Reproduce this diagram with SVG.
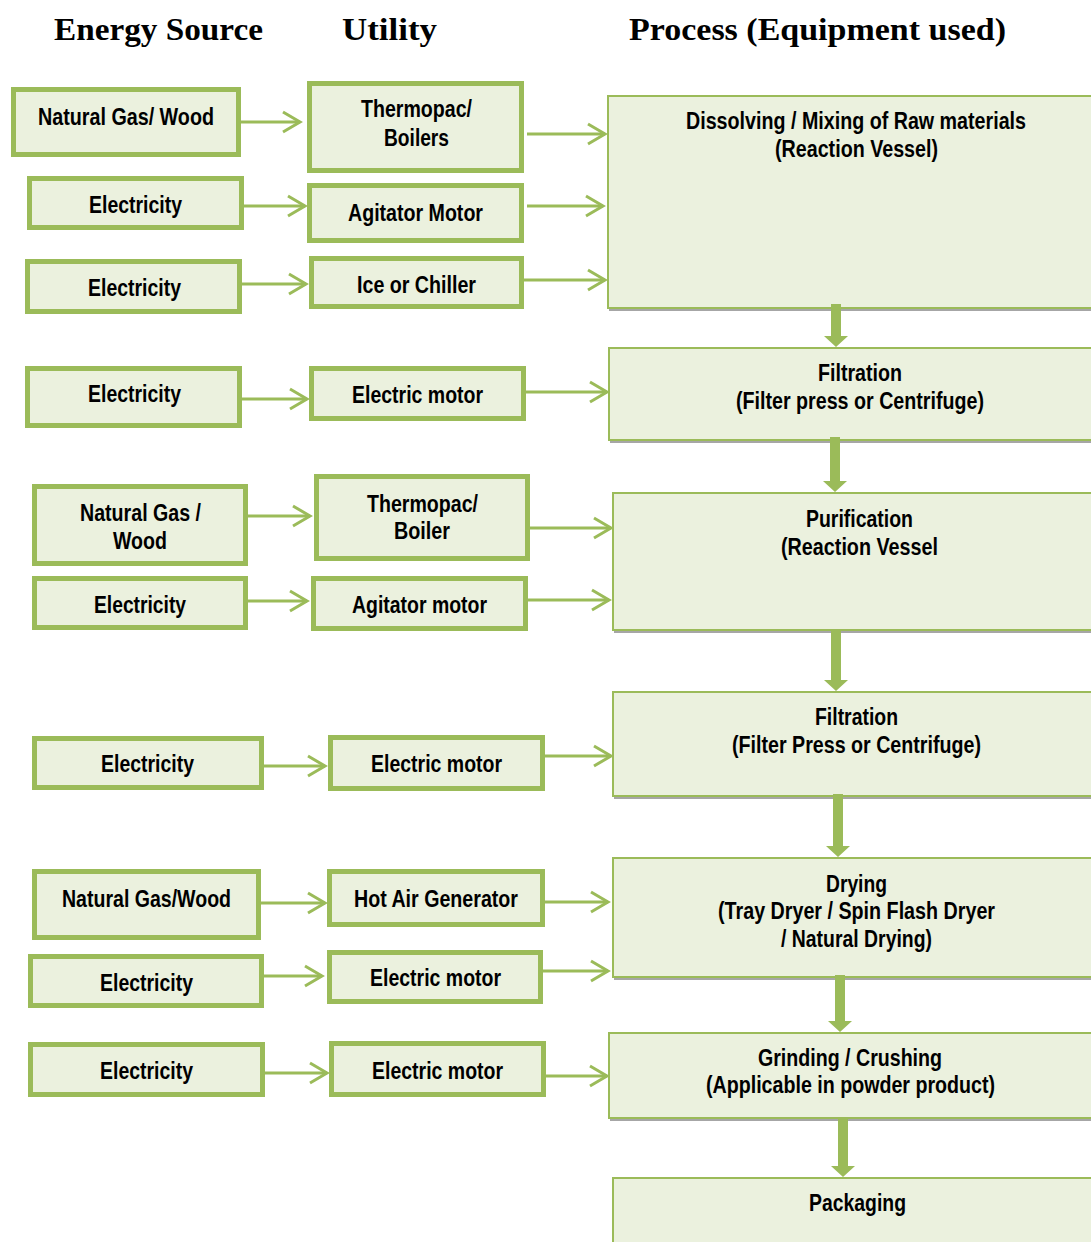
<svg xmlns="http://www.w3.org/2000/svg" width="1091" height="1242" viewBox="0 0 1091 1242">
<defs>
<style>
.hdr{font-family:"Liberation Serif","Times New Roman",serif;font-weight:bold;font-size:32px;fill:#000}
.t{font-family:"Liberation Sans",Arial,sans-serif;font-weight:bold;font-size:23px;fill:#000}
.lb{fill:#EBF1DE;stroke:#9BBB59;stroke-width:5}
.pb{fill:#EBF1DE;stroke:#9BBB59;stroke-width:2}
.sh{fill:#A6A6A6}
.c{stroke:#9BBB59;stroke-width:3;fill:none;marker-end:url(#chev)}
.va{fill:#9BBB59}
</style>
<marker id="chev" markerUnits="userSpaceOnUse" viewBox="-20 -13 22 26" refX="0" refY="0" markerWidth="22" markerHeight="26" orient="auto" overflow="visible">
<path d="M-17,-10 L0,0 L-17,10" fill="none" stroke="#9BBB59" stroke-width="3"/>
</marker>
</defs>
<rect width="1091" height="1242" fill="#fff"/>

<g id="headers">
<text class="hdr" x="54" y="40" textLength="209" lengthAdjust="spacingAndGlyphs">Energy Source</text>
<text class="hdr" x="342" y="40" textLength="95" lengthAdjust="spacingAndGlyphs">Utility</text>
<text class="hdr" x="629" y="40" textLength="377" lengthAdjust="spacingAndGlyphs">Process (Equipment used)</text>
</g>

<g id="connectors">
<line class="c" x1="240" y1="122" x2="300" y2="122"/>
<line class="c" x1="243" y1="206" x2="305" y2="206"/>
<line class="c" x1="242" y1="284" x2="306" y2="284"/>
<line class="c" x1="242" y1="399" x2="307" y2="399"/>
<line class="c" x1="248" y1="516" x2="310" y2="516"/>
<line class="c" x1="248" y1="601" x2="307" y2="601"/>
<line class="c" x1="264" y1="766" x2="325" y2="766"/>
<line class="c" x1="261" y1="903" x2="325" y2="903"/>
<line class="c" x1="257" y1="976" x2="322" y2="976"/>
<line class="c" x1="265" y1="1073" x2="327" y2="1073"/>
<line class="c" x1="527" y1="134" x2="605" y2="134"/>
<line class="c" x1="527" y1="206" x2="603" y2="206"/>
<line class="c" x1="524" y1="280" x2="605" y2="280"/>
<line class="c" x1="526" y1="392" x2="607" y2="392"/>
<line class="c" x1="524" y1="528" x2="611" y2="528"/>
<line class="c" x1="528" y1="600" x2="609" y2="600"/>
<line class="c" x1="545" y1="756" x2="611" y2="756"/>
<line class="c" x1="545" y1="902" x2="608" y2="902"/>
<line class="c" x1="543" y1="971" x2="608" y2="971"/>
<line class="c" x1="546" y1="1076" x2="607" y2="1076"/>
</g>

<g id="n-ng1"><rect class="lb" x="13.5" y="89.5" width="225" height="65"/><text class="t" x="38" y="125" textLength="176" lengthAdjust="spacingAndGlyphs">Natural Gas/ Wood</text></g>
<g id="n-el1"><rect class="lb" x="29.5" y="178.5" width="212" height="49"/><text class="t" x="89" y="213" textLength="93" lengthAdjust="spacingAndGlyphs">Electricity</text></g>
<g id="n-el2"><rect class="lb" x="27.5" y="261.5" width="212" height="50"/><text class="t" x="88" y="296" textLength="93" lengthAdjust="spacingAndGlyphs">Electricity</text></g>
<g id="n-el3"><rect class="lb" x="27.5" y="368.5" width="212" height="57"/><text class="t" x="88" y="402" textLength="93" lengthAdjust="spacingAndGlyphs">Electricity</text></g>
<g id="n-ng2"><rect class="lb" x="34.5" y="486.5" width="211" height="77"/><text class="t" x="80" y="521" textLength="121" lengthAdjust="spacingAndGlyphs">Natural Gas /</text><text class="t" x="113" y="549" textLength="54" lengthAdjust="spacingAndGlyphs">Wood</text></g>
<g id="n-el4"><rect class="lb" x="34.5" y="578.5" width="211" height="49"/><text class="t" x="94" y="613" textLength="92" lengthAdjust="spacingAndGlyphs">Electricity</text></g>
<g id="n-el5"><rect class="lb" x="34.5" y="738.5" width="227" height="49"/><text class="t" x="101" y="772" textLength="93" lengthAdjust="spacingAndGlyphs">Electricity</text></g>
<g id="n-ng3"><rect class="lb" x="34.5" y="871.5" width="224" height="66"/><text class="t" x="62" y="907" textLength="169" lengthAdjust="spacingAndGlyphs">Natural Gas/Wood</text></g>
<g id="n-el6"><rect class="lb" x="30.5" y="956.5" width="231" height="49"/><text class="t" x="100" y="991" textLength="93" lengthAdjust="spacingAndGlyphs">Electricity</text></g>
<g id="n-el7"><rect class="lb" x="30.5" y="1044.5" width="232" height="50"/><text class="t" x="100" y="1079" textLength="93" lengthAdjust="spacingAndGlyphs">Electricity</text></g>

<g id="u-thermo1"><rect class="lb" x="309.5" y="83.5" width="212" height="87"/><text class="t" x="361" y="117" textLength="111" lengthAdjust="spacingAndGlyphs">Thermopac/</text><text class="t" x="384" y="146" textLength="65" lengthAdjust="spacingAndGlyphs">Boilers</text></g>
<g id="u-agit1"><rect class="lb" x="309.5" y="185.5" width="212" height="55"/><text class="t" x="348" y="221" textLength="135" lengthAdjust="spacingAndGlyphs">Agitator Motor</text></g>
<g id="u-ice"><rect class="lb" x="311.5" y="258.5" width="210" height="48"/><text class="t" x="357" y="293" textLength="119" lengthAdjust="spacingAndGlyphs">Ice or Chiller</text></g>
<g id="u-em1"><rect class="lb" x="311.5" y="368.5" width="212" height="50"/><text class="t" x="352" y="403" textLength="131" lengthAdjust="spacingAndGlyphs">Electric motor</text></g>
<g id="u-thermo2"><rect class="lb" x="316.5" y="476.5" width="211" height="82"/><text class="t" x="367" y="512" textLength="111" lengthAdjust="spacingAndGlyphs">Thermopac/</text><text class="t" x="394" y="539" textLength="56" lengthAdjust="spacingAndGlyphs">Boiler</text></g>
<g id="u-agit2"><rect class="lb" x="313.5" y="578.5" width="212" height="50"/><text class="t" x="352" y="613" textLength="135" lengthAdjust="spacingAndGlyphs">Agitator motor</text></g>
<g id="u-em2"><rect class="lb" x="330.5" y="737.5" width="212" height="51"/><text class="t" x="371" y="772" textLength="131" lengthAdjust="spacingAndGlyphs">Electric motor</text></g>
<g id="u-hag"><rect class="lb" x="329.5" y="871.5" width="213" height="53"/><text class="t" x="354" y="907" textLength="164" lengthAdjust="spacingAndGlyphs">Hot Air Generator</text></g>
<g id="u-em3"><rect class="lb" x="329.5" y="952.5" width="211" height="49"/><text class="t" x="370" y="986" textLength="131" lengthAdjust="spacingAndGlyphs">Electric motor</text></g>
<g id="u-em4"><rect class="lb" x="331.5" y="1043.5" width="212" height="51"/><text class="t" x="372" y="1079" textLength="131" lengthAdjust="spacingAndGlyphs">Electric motor</text></g>

<g id="p-dissolve"><rect class="sh" x="609" y="98" width="490" height="213"/><rect class="pb" x="608" y="96" width="490" height="212"/><text class="t" x="686" y="129" textLength="340" lengthAdjust="spacingAndGlyphs">Dissolving / Mixing of Raw materials</text><text class="t" x="775" y="157" textLength="163" lengthAdjust="spacingAndGlyphs">(Reaction Vessel)</text></g>
<g id="p-filt1"><rect class="sh" x="610" y="350" width="490" height="93"/><rect class="pb" x="609" y="348" width="490" height="92"/><text class="t" x="818" y="381" textLength="84" lengthAdjust="spacingAndGlyphs">Filtration</text><text class="t" x="736" y="409" textLength="248" lengthAdjust="spacingAndGlyphs">(Filter press or Centrifuge)</text></g>
<g id="p-purif"><rect class="sh" x="614" y="495" width="490" height="138"/><rect class="pb" x="613" y="493" width="490" height="137"/><text class="t" x="806" y="527" textLength="107" lengthAdjust="spacingAndGlyphs">Purification</text><text class="t" x="781" y="555" textLength="157" lengthAdjust="spacingAndGlyphs">(Reaction Vessel</text></g>
<g id="p-filt2"><rect class="sh" x="614" y="694" width="490" height="105"/><rect class="pb" x="613" y="692" width="490" height="104"/><text class="t" x="815" y="725" textLength="83" lengthAdjust="spacingAndGlyphs">Filtration</text><text class="t" x="732" y="753" textLength="249" lengthAdjust="spacingAndGlyphs">(Filter Press or Centrifuge)</text></g>
<g id="p-dry"><rect class="sh" x="614" y="860" width="490" height="120"/><rect class="pb" x="613" y="858" width="490" height="119"/><text class="t" x="826" y="892" textLength="61" lengthAdjust="spacingAndGlyphs">Drying</text><text class="t" x="718" y="919" textLength="277" lengthAdjust="spacingAndGlyphs">(Tray Dryer / Spin Flash Dryer</text><text class="t" x="781" y="947" textLength="151" lengthAdjust="spacingAndGlyphs">/ Natural Drying)</text></g>
<g id="p-grind"><rect class="sh" x="610" y="1035" width="490" height="86"/><rect class="pb" x="609" y="1033" width="490" height="85"/><text class="t" x="758" y="1066" textLength="184" lengthAdjust="spacingAndGlyphs">Grinding / Crushing</text><text class="t" x="706" y="1093" textLength="289" lengthAdjust="spacingAndGlyphs">(Applicable in powder product)</text></g>
<g id="p-pack"><rect class="pb" x="613" y="1178" width="490" height="80"/><text class="t" x="809" y="1211" textLength="97" lengthAdjust="spacingAndGlyphs">Packaging</text></g>

<g id="flow-arrows">
<polygon class="va" points="831,304 841,304 841,336 848,336 836,347 824,336 831,336"/>
<polygon class="va" points="830,437 840,437 840,481 847,481 835,492 823,481 830,481"/>
<polygon class="va" points="831,630 841,630 841,680 848,680 836,691 824,680 831,680"/>
<polygon class="va" points="833,794 843,794 843,846 850,846 838,857 826,846 833,846"/>
<polygon class="va" points="835,975 845,975 845,1021 852,1021 840,1032 828,1021 835,1021"/>
<polygon class="va" points="838,1118 848,1118 848,1166 855,1166 843,1177 831,1166 838,1166"/>
</g>
</svg>
